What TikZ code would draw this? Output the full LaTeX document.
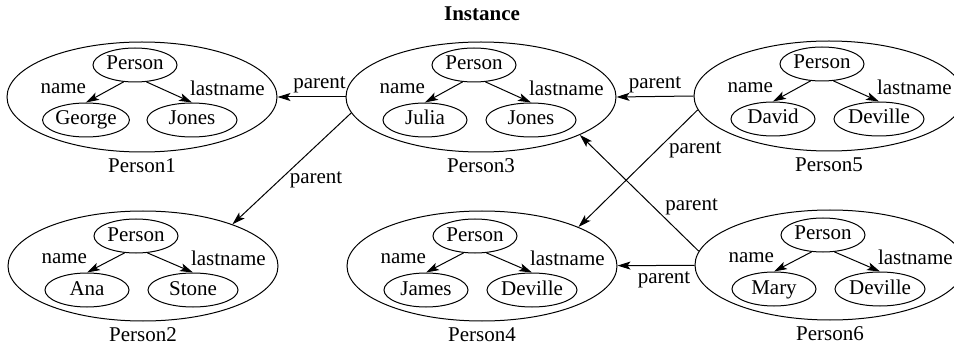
\documentclass[tikz,border=0pt]{standalone}
\usepackage{fontspec}
\setmainfont{Liberation Serif}
\usetikzlibrary{shapes.geometric, arrows.meta, positioning, calc}

\begin{document}
\begin{tikzpicture}[
    x=1pt, y=-1pt,
    font=\fontsize{21}{25}\selectfont,
    obj/.style={ellipse, draw=black, line width=1pt, minimum width=270pt, minimum height=110pt, inner sep=0pt},
    attr/.style={ellipse, draw=black, line width=1pt, minimum width=#1, minimum height=34pt, inner sep=0pt, text height=14pt, text depth=4pt},
    attr/.default=84pt,
    arrow/.style={-{Stealth[length=13pt, width=8pt, inset=3pt]}, line width=1pt},
    node distance=3pt
]
\clip (0,0) rectangle (954,350);

\node[font=\fontsize{21}{25}\selectfont\bfseries] (title) at (482,14) {Instance};

% Person1
\node[obj] (person1) at (142,97) {};
\node[below=of person1] (cap1) {Person1};
\node[attr] (type1) at ($(person1)+(-7,-32)$) {Person};
\node[attr] (first1) at ($(person1)+(-56,23)$) {George};
\node[attr=90pt] (last1) at ($(person1)+(50,23)$) {Jones};
\draw[arrow] (type1.236) -- node[left=15pt, yshift=4pt] {name} (first1.north);
\draw[arrow] (type1.304) -- node[right=17pt, yshift=4pt] {lastname} (last1.north);

% Person3
\node[obj] (person3) at (481,97) {};
\node[below=of person3] (cap3) {Person3};
\node[attr] (type3) at ($(person3)+(-7,-32)$) {Person};
\node[attr] (first3) at ($(person3)+(-56,23)$) {Julia};
\node[attr=90pt] (last3) at ($(person3)+(50,23)$) {Jones};
\draw[arrow] (type3.236) -- node[left=15pt, yshift=4pt] {name} (first3.north);
\draw[arrow] (type3.304) -- node[right=17pt, yshift=4pt] {lastname} (last3.north);

% Person5
\node[obj] (person5) at (829,96) {};
\node[below=of person5] (cap5) {Person5};
\node[attr] (type5) at ($(person5)+(-7,-32)$) {Person};
\node[attr] (first5) at ($(person5)+(-56,23)$) {David};
\node[attr=90pt] (last5) at ($(person5)+(50,23)$) {Deville};
\draw[arrow] (type5.236) -- node[left=15pt, yshift=4pt] {name} (first5.north);
\draw[arrow] (type5.304) -- node[right=17pt, yshift=4pt] {lastname} (last5.north);

% Person2
\node[obj] (person2) at (143,266) {};
\node[below=of person2] (cap2) {Person2};
\node[attr] (type2) at ($(person2)+(-7,-30)$) {Person};
\node[attr] (first2) at ($(person2)+(-56,24)$) {Ana};
\node[attr=90pt] (last2) at ($(person2)+(50,24)$) {Stone};
\draw[arrow] (type2.236) -- node[left=15pt, yshift=4pt] {name} (first2.north);
\draw[arrow] (type2.304) -- node[right=17pt, yshift=4pt] {lastname} (last2.north);

% Person4
\node[obj] (person4) at (482,266) {};
\node[below=of person4] (cap4) {Person4};
\node[attr] (type4) at ($(person4)+(-7,-30)$) {Person};
\node[attr] (first4) at ($(person4)+(-56,24)$) {James};
\node[attr=90pt] (last4) at ($(person4)+(50,24)$) {Deville};
\draw[arrow] (type4.236) -- node[left=15pt, yshift=4pt] {name} (first4.north);
\draw[arrow] (type4.304) -- node[right=17pt, yshift=4pt] {lastname} (last4.north);

% Person6
\node[obj] (person6) at (830,265) {};
\node[below=of person6] (cap6) {Person6};
\node[attr] (type6) at ($(person6)+(-7,-30)$) {Person};
\node[attr] (first6) at ($(person6)+(-56,24)$) {Mary};
\node[attr=90pt] (last6) at ($(person6)+(50,24)$) {Deville};
\draw[arrow] (type6.236) -- node[left=15pt, yshift=4pt] {name} (first6.north);
\draw[arrow] (type6.304) -- node[right=17pt, yshift=4pt] {lastname} (last6.north);

% Parent links
\draw[arrow] (person3) -- node[above, xshift=8pt] {parent} (person1);
\draw[arrow] (person3.187) -- node[pos=0.6, right=6pt] {parent} (person2.25);
\draw[arrow] (person5.west) -- node[above] {parent} (person3.east);
\draw[arrow] (person5.186) -- node[pos=0.34, right=8pt] {parent} (person4.22);
\draw[arrow] (person6.174) -- node[pos=0.38, right=8pt] {parent} (person3.-21);
\draw[arrow] (person6) -- node[below=2pt, xshift=8pt] {parent} (person4);

\end{tikzpicture}
\end{document}
